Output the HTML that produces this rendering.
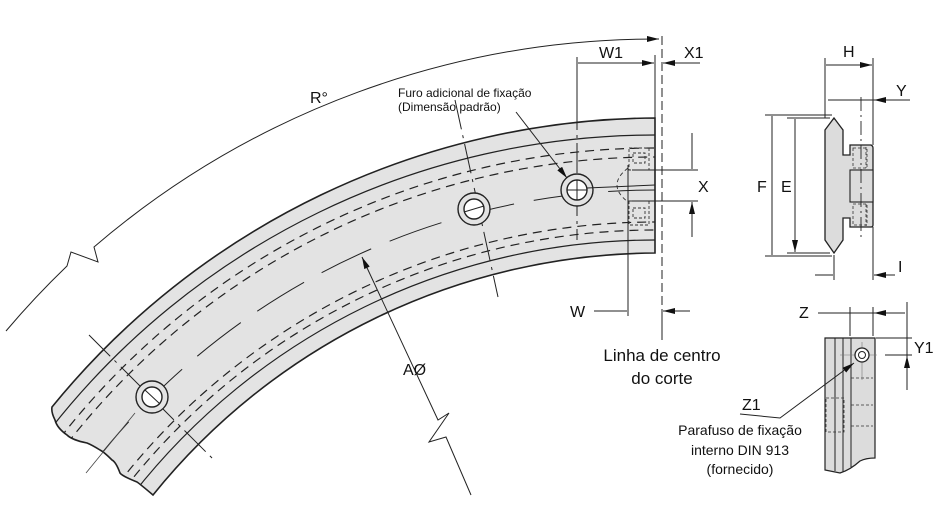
<!DOCTYPE html>
<html><head><meta charset="utf-8"><style>
html,body{margin:0;padding:0;background:#fff;width:941px;height:528px;overflow:hidden;}
svg{display:block;}
text{font-family:"Liberation Sans",Arial,sans-serif;fill:#111;}
</style></head><body>
<svg width="941" height="528" viewBox="0 0 941 528" xmlns="http://www.w3.org/2000/svg">
<defs>
<marker id="m" viewBox="0 0 12 6" refX="12" refY="3" markerWidth="12" markerHeight="6" markerUnits="userSpaceOnUse" orient="auto"><path d="M0,0L12,3L0,6z" fill="#111"/></marker>
<clipPath id="tc"><path d="M655,118 L655,253 A650,650 0 0 0 153,495 Q140,484 137,482 Q122,476 120,473 Q116,462 112,460 Q104,452 100,450 Q92,445 87,443 Q72,440 67,435 Q57,428 55,420 Q51,412 52,407 A783,783 0 0 1 655,118 Z"/></clipPath>
</defs>

<path d="M655,118 L655,253 A650,650 0 0 0 153,495 Q140,484 137,482 Q122,476 120,473 Q116,462 112,460 Q104,452 100,450 Q92,445 87,443 Q72,440 67,435 Q57,428 55,420 Q51,412 52,407 A783,783 0 0 1 655,118 Z" fill="#e3e3e3" stroke="#222" stroke-width="1.6"/>
<g clip-path="url(#tc)" fill="none" stroke="#222">
<path d="M49.8,429.9 A768,768 0 0 1 655,135" stroke-width="1.2"/>
<path d="M132.6,494.6 A663,663 0 0 1 655,240" stroke-width="1.2"/>
<path d="M60.1,437.9 A755,755 0 0 1 655,148" stroke-width="1.2" stroke-dasharray="9 6"/>
<path d="M67.2,443.5 A746,746 0 0 1 655,157" stroke-width="1.2" stroke-dasharray="9 6"/>
<path d="M118.4,483.5 A681,681 0 0 1 655,222" stroke-width="1.2" stroke-dasharray="9 6"/>
<path d="M124.7,488.4 A673,673 0 0 1 655,230" stroke-width="1.2" stroke-dasharray="9 6"/>
<path d="M93.2,463.8 A713,713 0 0 1 655,190" stroke-width="1" stroke-dasharray="55 20"/>
</g>
<path d="M455,100 L498,297" stroke="#222" stroke-width="1" stroke-dasharray="30 6 3 6" fill="none"/>
<path d="M89,335 L214,460" stroke="#222" stroke-width="1" stroke-dasharray="30 6 3 6" fill="none"/>
<path d="M86,473 L135,413" stroke="#444" stroke-width="0.8"/>
<path d="M577,57 L577,240" stroke="#222" stroke-width="1" stroke-dasharray="30 5 3 5"/>
<g fill="#fff" stroke="#222" stroke-width="1.4">
<circle cx="577" cy="190" r="16" fill="#e3e3e3"/><circle cx="577" cy="190" r="10"/>
<circle cx="474" cy="209" r="16" fill="#e3e3e3"/><circle cx="474" cy="209" r="10"/>
<circle cx="152" cy="397" r="16" fill="#e3e3e3"/><circle cx="152" cy="397" r="10"/>
</g>
<path d="M567,190 L587,190 M577,180 L577,200 M464,212 L484,206 M145,390 L160,404" stroke="#222" stroke-width="1"/>
<g fill="none" stroke="#333" stroke-width="0.9" stroke-dasharray="3 2">
<rect x="629" y="148" width="20" height="22"/><rect x="633" y="153" width="12" height="10"/>
<rect x="629" y="201" width="20" height="24"/><rect x="633" y="208" width="12" height="10"/>
<path d="M628,168 Q606,185 628,202" stroke-dasharray="4 3"/>
</g>
<path d="M587,188 L655,185" stroke="#222" stroke-width="1"/>
<path d="M628,165 L628,316" stroke="#222" stroke-width="1"/>
<path d="M662,36 L662,322" stroke="#222" stroke-width="1" stroke-dasharray="9 4"/>

<path d="M6,331 A864,864 0 0 1 67,266 L71,252 L98,262 L94,247 A864,864 0 0 1 659,39" fill="none" stroke="#222" stroke-width="1" marker-end="url(#m)"/>
<text x="310" y="103" font-size="16">R°</text>

<path d="M471,495 L446,437 L429,442 L449,413 L438,420 L362,257" fill="none" stroke="#222" stroke-width="1" marker-end="url(#m)"/>
<text x="403" y="375" font-size="16">AØ</text>

<text x="398" y="97" font-size="12">Furo adicional de fixação</text>
<text x="398" y="111" font-size="12">(Dimensão padrão)</text>
<path d="M516,112 L567,178" stroke="#222" stroke-width="1" marker-end="url(#m)"/>

<path d="M577,57 L577,100 M655,55 L655,118" stroke="#222" stroke-width="1"/>
<path d="M616,63 L578,63 M616,63 L654,63" stroke="#222" stroke-width="1" marker-end="url(#m)"/>
<path d="M700,63 L663,63" stroke="#222" stroke-width="1" marker-end="url(#m)"/>
<text x="599" y="58" font-size="16">W1</text>
<text x="684" y="58" font-size="16">X1</text>

<path d="M632,170 L698,170 M632,201 L698,201" stroke="#222" stroke-width="1"/>
<path d="M692,133 L692,169 M692,237 L692,202" stroke="#222" stroke-width="1" marker-end="url(#m)"/>
<text x="698" y="192" font-size="16">X</text>

<path d="M594,311 L627,311 M690,311 L663,311" stroke="#222" stroke-width="1" marker-end="url(#m)"/>
<text x="570" y="317" font-size="16">W</text>
<path d="M662,318 L662,340" stroke="#222" stroke-width="1"/>
<text x="662" y="361" font-size="17" text-anchor="middle">Linha de centro</text>
<text x="662" y="384" font-size="17" text-anchor="middle">do corte</text>

<path d="M834,118 L843,130 L843,155 L850,155 L850,145 L871,145 Q873,146 873,148 L873,225 Q873,227 871,227 L850,227 L850,218 L843,218 L843,240 L834,253 L825,240 L825,130 Z" fill="#dcdcdc" stroke="#222" stroke-width="1.3"/>
<rect x="850" y="170" width="23" height="32" fill="#dcdcdc" stroke="#222" stroke-width="1.1"/>
<g fill="none" stroke="#333" stroke-width="0.8" stroke-dasharray="3 2">
<rect x="853" y="148" width="14" height="20"/><rect x="853" y="204" width="14" height="21"/>
<path d="M866,147 L866,168 M866,204 L866,226"/>
</g>
<path d="M861,97 L861,240" stroke="#222" stroke-width="0.9" stroke-dasharray="14 4 2 4"/>
<path d="M825,58 L825,118 M873,58 L873,145" stroke="#222" stroke-width="1"/>
<path d="M849,65 L826,65 M849,65 L872,65" stroke="#222" stroke-width="1" marker-end="url(#m)"/>
<text x="843" y="57" font-size="16">H</text>
<path d="M828,100 L910,100" stroke="#222" stroke-width="1"/>
<path d="M838,100 L860,100 M895,100 L874,100" stroke="#222" stroke-width="1" marker-end="url(#m)"/>
<text x="896" y="96" font-size="16">Y</text>
<path d="M765,115 L832,115 M765,256 L832,256 M787,118 L830,118 M787,253 L830,253" stroke="#222" stroke-width="1"/>
<path d="M772,185 L772,116 M772,185 L772,255 M795,185 L795,119 M795,185 L795,252" stroke="#222" stroke-width="1" marker-end="url(#m)"/>
<text x="757" y="192" font-size="16">F</text>
<text x="781" y="192" font-size="16">E</text>
<path d="M834,255 L834,280 M873,227 L873,280" stroke="#222" stroke-width="1"/>
<path d="M815,275 L833,275 M895,275 L874,275" stroke="#222" stroke-width="1" marker-end="url(#m)"/>
<text x="898" y="272" font-size="16">I</text>

<path d="M825,338 L875,338 L875,458 Q866,458 860,461 Q850,470 840,473 L825,470 Z" fill="#dcdcdc" stroke="#222" stroke-width="1.2"/>
<path d="M835,338 L835,471 M843,338 L843,472 M851,338 L851,467" stroke="#222" stroke-width="1"/>
<g fill="none" stroke="#333" stroke-width="0.8" stroke-dasharray="3 2">
<path d="M851,378 L873,378 M851,405 L873,405 M851,426 L873,426"/>
<rect x="826" y="398" width="18" height="34"/>
</g>
<path d="M840,355 L877,355 M862,342 L862,380" stroke="#777" stroke-width="0.6"/>
<circle cx="862" cy="355" r="7" fill="#fff" stroke="#222" stroke-width="1.3"/>
<circle cx="862" cy="355" r="3.5" fill="#fff" stroke="#222" stroke-width="1"/>
<path d="M850,307 L850,336 M873,307 L873,336" stroke="#222" stroke-width="1"/>
<path d="M818,313 L905,313" stroke="#222" stroke-width="1"/>
<path d="M825,313 L849,313 M900,313 L874,313" stroke="#222" stroke-width="1" marker-end="url(#m)"/>
<text x="799" y="318" font-size="16">Z</text>
<path d="M876,338 L912,338 M885,355 L912,355" stroke="#222" stroke-width="1"/>
<path d="M907,302 L907,390" stroke="#222" stroke-width="1"/>
<path d="M907,312 L907,337 M907,380 L907,356" stroke="#222" stroke-width="1" marker-end="url(#m)"/>
<text x="914" y="353" font-size="16">Y1</text>
<text x="742" y="410" font-size="16">Z1</text>
<path d="M740,414 L780,418 L854,363" stroke="#222" stroke-width="1" fill="none" marker-end="url(#m)"/>
<text x="740" y="435" font-size="14" text-anchor="middle">Parafuso de fixação</text>
<text x="740" y="455" font-size="14" text-anchor="middle">interno DIN 913</text>
<text x="740" y="474" font-size="14" text-anchor="middle">(fornecido)</text>
</svg>
</body></html>
